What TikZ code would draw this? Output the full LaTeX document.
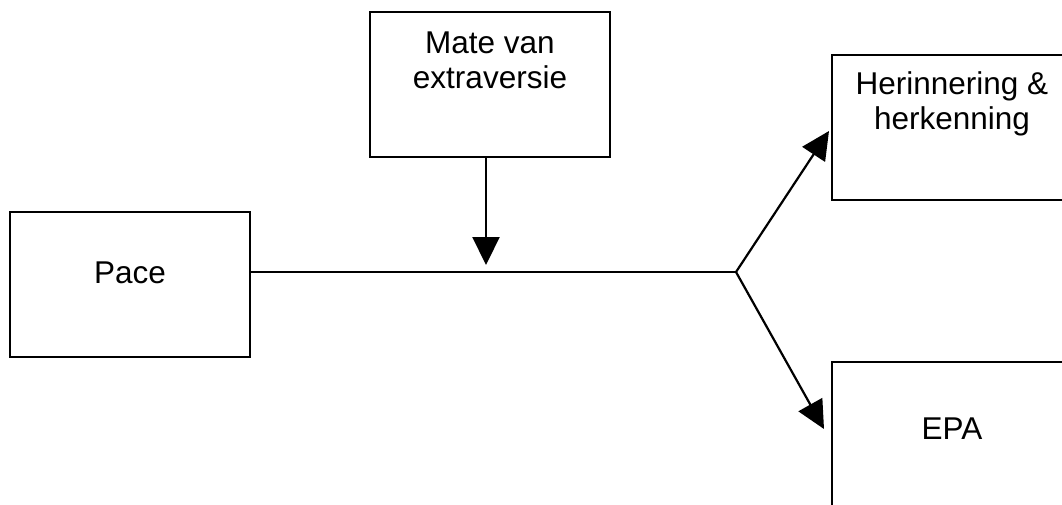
\documentclass[tikz,border=0pt]{standalone}
\usepackage{fontspec}
\setmainfont{Liberation Sans}
\usetikzlibrary{arrows.meta}
\begin{document}
\begin{tikzpicture}[x=1pt,y=-1pt,
  box/.style={draw, line width=2.3pt, minimum width=240pt, minimum height=145pt, inner sep=0pt},
  lbl/.style={font=\fontsize{31.5pt}{35pt}\selectfont, align=center, inner sep=0pt, anchor=base},
  conn/.style={line width=2.2pt},
  arr/.style={line width=2.2pt, -{Triangle[length=28pt,width=27pt]}}]
  \useasboundingbox (0,0) rectangle (1062,504);
  \clip (0,0) rectangle (1062,504);

  % boxes
  \node[box] (pace)  at (130,284.5) {};
  \node[box] (mate)  at (490,84.5)  {};
  \node[box] (herin) at (952,127.5) {};
  \node[box] (epa)   at (952,434.5) {};

  % texts (base anchor sits on the last line)
  \node[lbl] (tpace)  at (130,283) {Pace};
  \node[lbl] (tmate)  at (490,88)  {Mate van\\extraversie};
  \node[lbl] (therin) at (952,129) {Herinnering \&\\herkenning};
  \node[lbl] (tepa)   at (952,439) {EPA};

  % connector points
  \coordinate (junc) at (736,272);
  \coordinate (mod)  at (486,265);
  \coordinate (tipH) at (829,131);
  \coordinate (tipE) at (824,429);

  % connectors
  \draw[conn] (pace.east |- junc) -- (junc);
  \draw[arr] (mate.south -| mod) -- (mod);
  \draw[arr] (junc) -- (tipH);
  \draw[arr] (junc) -- (tipE);
\end{tikzpicture}
\end{document}
